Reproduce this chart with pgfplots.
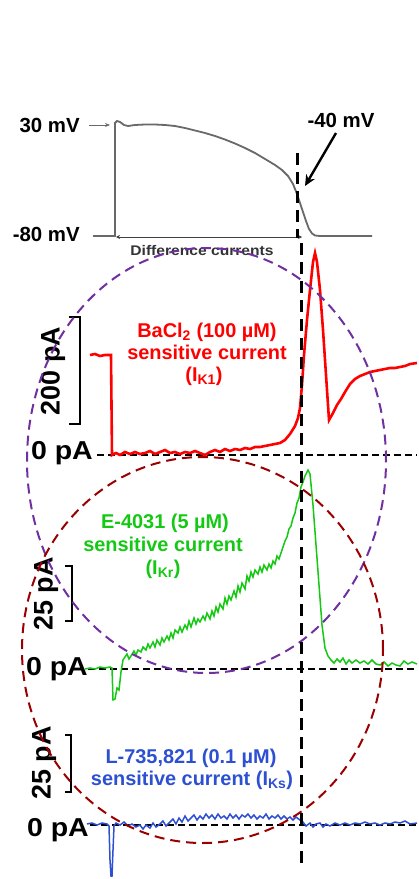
\documentclass[border=0pt]{standalone}
\usepackage{pgfplots}
\pgfplotsset{compat=1.18}
\usepackage{fontspec}
\setmainfont{Liberation Sans}
\usetikzlibrary{arrows.meta}
\definecolor{apgray}{RGB}{105,105,105}
\definecolor{myred}{RGB}{255,0,0}
\definecolor{mygreen}{RGB}{20,200,20}
\definecolor{myblue}{RGB}{45,80,210}
\definecolor{mypurple}{RGB}{112,48,160}
\definecolor{mybrown}{RGB}{155,0,0}
\newcommand\fs[1]{\fontsize{#1}{#1}\selectfont\bfseries}
\begin{document}
\begin{tikzpicture}
\begin{axis}[
  scale only axis, width=417bp, height=879bp,
  xmin=0, xmax=417, ymin=0, ymax=879, y dir=reverse,
  enlargelimits=false, hide axis, clip=false,
]
\path (axis cs:0,0) rectangle (axis cs:417,879);
% ---------- action potential ----------
\addplot[no marks, apgray, line width=1.8bp] coordinates {
(93,236)(115,236)(115,123)(117,121)(120,122)(124,125)(128,126)(135,125)(145,124.5)(155,124.5)(165,125)(175,126)(185,128)(195,130.5)(205,133)(215,136)(225,139.5)(235,143.5)(245,148)(255,153)(265,159)(275,165)(282,170)(288,176)(293,184)(297,194)(300,203)(303,212)(306,221)(309,229)(312,233.5)(315,235.5)(320,236)(372,236)};
\draw[black!75, line width=0.8bp, {Stealth[length=4bp,width=4bp]}-{Stealth[length=4bp,width=4bp]}] (axis cs:116,237) -- (axis cs:302,237);
\draw[apgray, line width=0.9bp, -{Stealth[length=5bp,width=4bp]}] (axis cs:89,125) -- (axis cs:110,125);
\node[anchor=base east, inner sep=0pt] at (axis cs:80,133) {\fs{20.5}30 mV};
\node[anchor=base east, inner sep=0pt] at (axis cs:80,241) {\fs{20.5}-80 mV};
\node[anchor=base, inner sep=0pt] at (axis cs:341,128) {\fs{20.5}-40 mV};
\draw[black, line width=2.4bp, -{Stealth[length=11bp,width=10bp]}] (axis cs:336,133) -- (axis cs:305,186);
\node[anchor=base, inner sep=0pt, black!80] at (axis cs:202,255) {\scalebox{1.12}[1]{\fs{14}Difference currents}};
% ---------- zero lines ----------
\draw[black, line width=1.1bp, dash pattern=on 7bp off 4bp] (axis cs:97,455) -- (axis cs:417,455);
\draw[black, line width=1.1bp, dash pattern=on 7bp off 4bp] (axis cs:88,669) -- (axis cs:417,669);
\draw[black, line width=1.1bp, dash pattern=on 7bp off 4bp] (axis cs:90,825) -- (axis cs:417,825);
% ---------- IK1 (red) ----------
\addplot[no marks, myred, line width=2.6bp] coordinates {
(90,355)(95,354)(100,356)(105,355)(111,355)(112,455)(116,453)(120,455)(125,452)(130,454)(135,452)(140,454)(145,453)(150,451)(155,454)(160,452)(165,450)(170,453)(175,452)(180,454)(185,452)(190,453)(195,451)(200,453)(205,455)(210,452)(215,450)(220,452)(225,449)(230,451)(235,449)(240,450)(245,448)(250,449)(255,447)(260,447)(265,446)(270,445)(275,444)(280,443)(285,440)(290,434)(295,426)(298,418)(300,408)(302,385)(304,355)(307,320)(310,290)(313,262)(315,253)(317,262)(320,290)(323,330)(326,375)(329,420)(333,413)(337,405)(341,399)(345,392)(350,384)(355,379)(360,376)(365,374)(370,372)(375,371)(380,370)(385,369)(390,368)(395,368)(400,367)(405,366)(410,364)(417,363)};
% ---------- IKr (green) ----------
\addplot[no marks, mygreen, line width=1.5bp] coordinates {
(85,669)(90,668)(95,669)(100,667)(105,668)(110,667)(112,668)(113,700)(115,699)(117,688)(119,690)(121,672)(123,660)(125,657)(127,654)(129,659)(131,656)(134,651)(136,655)(138,650)(141,652)(143,647)(146,650)(148,644)(150,648)(153,642)(155,647)(157,640)(160,645)(162,638)(164,642)(167,636)(169,640)(171,633)(173,638)(175,630)(178,633)(180,627)(182,632)(185,625)(187,629)(189,621)(191,627)(194,618)(196,624)(198,619)(200,622)(203,616)(205,620)(207,613)(210,619)(212,611)(214,616)(216,607)(218,612)(220,604)(223,609)(225,598)(227,604)(229,596)(231,600)(234,591)(236,597)(238,586)(240,592)(242,583)(245,589)(247,576)(249,581)(251,572)(253,577)(255,570)(258,574)(260,567)(262,572)(264,565)(267,570)(269,564)(271,568)(273,561)(275,564)(277,556)(279,559)(281,553)(283,547)(285,541)(287,537)(289,529)(291,526)(293,518)(295,513)(297,503)(299,498)(301,487)(303,482)(305,476)(308,470)(310,474)(313,505)(316,545)(319,585)(322,625)(325,648)(328,656)(331,660)(334,663)(337,659)(340,662)(343,658)(346,664)(349,660)(352,663)(356,660)(360,663)(364,661)(368,664)(372,660)(376,664)(380,665)(384,662)(388,666)(392,663)(396,665)(400,666)(404,661)(408,664)(412,662)(417,664)};
% ---------- IKs (blue) ----------
\addplot[no marks, myblue, line width=1.5bp] coordinates {
(87,824)(92,823)(97,825)(102,823)(107,824)(109,826)(110,860)(111,876)(112,876)(113,850)(114,826)(116,823)(120,825)(124,822)(128,826)(132,824)(136,827)(140,825)(143,829)(146,825)(150,828)(153,823)(156,827)(160,824)(163,821)(166,826)(170,822)(173,819)(176,824)(179,818)(182,822)(185,816)(188,821)(191,818)(194,815)(197,820)(200,816)(203,819)(206,814)(209,818)(212,815)(215,819)(218,814)(221,818)(224,816)(227,819)(230,814)(233,818)(236,815)(239,819)(242,815)(245,817)(248,814)(251,818)(254,815)(257,819)(260,816)(263,818)(266,814)(269,819)(272,816)(275,818)(278,815)(281,819)(284,816)(287,819)(290,817)(293,820)(296,817)(300,820)(303,822)(306,826)(310,823)(313,827)(316,824)(320,823)(323,827)(326,824)(330,826)(335,823)(340,825)(345,823)(350,825)(355,823)(360,824)(365,822)(370,824)(375,823)(380,825)(385,823)(390,824)(395,822)(400,823)(405,821)(410,824)(417,823)};
% ---------- labels ----------
\node[anchor=base east, inner sep=0pt] at (axis cs:93,459) {\scalebox{1.1}[1]{\fs{26}0 pA}};
\node[anchor=base east, inner sep=0pt] at (axis cs:88,675) {\scalebox{1.1}[1]{\fs{26}0 pA}};
\node[anchor=base east, inner sep=0pt] at (axis cs:89,836) {\scalebox{1.1}[1]{\fs{26}0 pA}};
\draw[black, line width=2bp] (axis cs:69,317) -- (axis cs:80,317) -- (axis cs:80,424) -- (axis cs:69,424);
\draw[black, line width=2bp] (axis cs:65,566) -- (axis cs:72,566) -- (axis cs:72,621) -- (axis cs:65,621);
\draw[black, line width=2bp] (axis cs:65,735) -- (axis cs:71,735) -- (axis cs:71,792) -- (axis cs:65,792);
\node[rotate=90, inner sep=0pt] at (axis cs:53,371) {\fs{27}200 pA};
\node[rotate=90, inner sep=0pt] at (axis cs:46,594) {\fs{27}25 pA};
\node[rotate=90, inner sep=0pt] at (axis cs:44,763) {\fs{27}25 pA};
\node[anchor=base, inner sep=0pt, myred] at (axis cs:207,337) {\fs{20}BaCl\textsubscript{2} (100 µM)};
\node[anchor=base, inner sep=0pt, myred] at (axis cs:207,359) {\fs{20}sensitive current};
\node[anchor=base, inner sep=0pt, myred] at (axis cs:204,381) {\fs{20}(I\textsubscript{K1})};
\node[anchor=base, inner sep=0pt, mygreen] at (axis cs:165,528) {\fs{20}E-4031 (5 µM)};
\node[anchor=base, inner sep=0pt, mygreen] at (axis cs:163,551) {\fs{20}sensitive current};
\node[anchor=base, inner sep=0pt, mygreen] at (axis cs:163,574) {\fs{20}(I\textsubscript{Kr})};
\node[anchor=base, inner sep=0pt, myblue] at (axis cs:191,763) {\fs{20}L-735,821 (0.1 µM)};
\node[anchor=base, inner sep=0pt, myblue] at (axis cs:192,785) {\fs{20}sensitive current (I\textsubscript{Ks})};
% ---------- circles ----------
\draw[mypurple, line width=2bp, dash pattern=on 10bp off 6bp] (axis cs:206.5,460.5) ellipse [x radius=179.5bp, y radius=212.5bp];
\draw[mybrown, line width=2bp, dash pattern=on 10bp off 6bp] (axis cs:202.5,650) ellipse [x radius=180.5bp, y radius=193bp];
% ---------- vertical dashed ----------
\draw[black, line width=3bp, dash pattern=on 12bp off 7bp] (axis cs:297,153) -- (axis cs:297,238);
\draw[black, line width=3bp, dash pattern=on 12bp off 7bp] (axis cs:301,243) -- (axis cs:301,865);
\end{axis}
\end{tikzpicture}
\end{document}
